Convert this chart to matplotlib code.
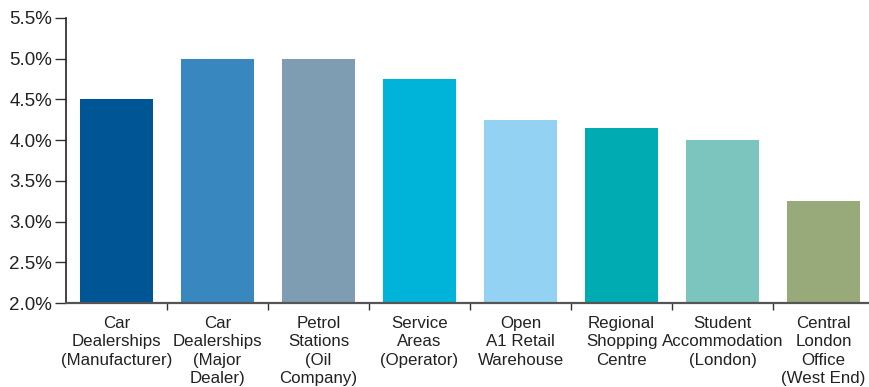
import numpy as np
import matplotlib.pyplot as plt
from matplotlib.ticker import FuncFormatter

categories = ['Car\nDealerships\n(Manufacturer)', 'Car\nDealerships\n(Major\nDealer)',
              'Petrol\nStations\n(Oil\nCompany)', 'Service\nAreas\n(Operator)',
              'Open\nA1 Retail\nWarehouse', 'Regional\nShopping\nCentre',
              'Student\nAccommodation\n(London)', 'Central\nLondon\nOffice\n(West End)']
yields = [4.5, 5.0, 5.0, 4.75, 4.25, 4.15, 4.0, 3.25]
colours = ['#005594', '#3887be', '#7f9db2', '#00b4d9', '#93d2f3', '#00abb1', '#7cc5bf', '#98a97a']
y_ticks = [2.0, 2.5, 3.0, 3.5, 4.0, 4.5, 5.0, 5.5]

plt.rcParams['font.family'] = ['Liberation Sans', 'DejaVu Sans']

fig = plt.figure(figsize=(8.69, 3.87), dpi=100)
ax = fig.add_axes([0.076, 0.217, 0.924, 0.7365])

x = np.arange(len(yields))
base = y_ticks[0]
ax.bar(x, np.array(yields) - base, bottom=base, width=0.72, color=colours)

ax.set_xlim(-0.5, 7.45)
ax.set_ylim(y_ticks[0], y_ticks[-1])
ax.set_yticks(y_ticks)
ax.yaxis.set_major_formatter(FuncFormatter(lambda v, p: f'{v:.1f}%'))

ax.set_xticks(x)
ax.set_xticklabels(categories, fontsize=12.2, color='#222222')
for lbl in ax.get_xticklabels():
    lbl.set_linespacing(1.3)
ax.set_xticks(np.arange(0.5, 7.5, 1), minor=True)
ax.tick_params(axis='x', which='major', length=0, pad=9)
ax.tick_params(axis='x', which='minor', length=5, width=1, color='#333333', direction='out')
ax.tick_params(axis='y', length=8, width=1, color='#333333', labelsize=13.5,
               labelcolor='#222222', pad=2)

for s in ['top', 'right']:
    ax.spines[s].set_visible(False)
ax.spines['left'].set_color('#222222')
ax.spines['left'].set_linewidth(1.2)
ax.spines['bottom'].set_color('#555555')
ax.spines['bottom'].set_linewidth(1.6)

fig.savefig('out.png', dpi=100)
